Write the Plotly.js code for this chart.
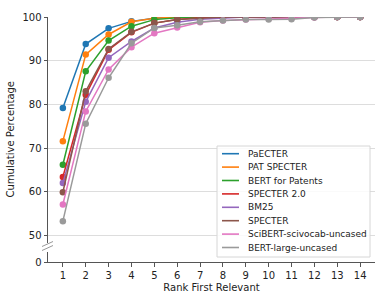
<!DOCTYPE html>
<html>
<head>
<meta charset="utf-8">
<script src="https://cdn.plot.ly/plotly-3.0.1.min.js"></script>
<style>html,body{margin:0;padding:0;background:#fff;}#chart{width:382px;height:300px;}</style>
</head>
<body>
<div id="chart"></div>
<script>
// ---- data ----
const ranks = [1,2,3,4,5,6,7,8,9,10,11,12,13,14];
const seriesNames = ["PaECTER","PAT SPECTER","BERT for Patents","SPECTER 2.0","BM25","SPECTER","SciBERT-scivocab-uncased","BERT-large-uncased"];
const paecter      = [79.2, 93.8, 97.4, 99.0, 99.7, 100, 100, 100, 100, 100, 100, 100, 100, 100];
const patSpecter   = [71.6, 91.4, 96.0, 98.9, 99.7, 100, 100, 100, 100, 100, 100, 100, 100, 100];
const bertPatents  = [66.2, 87.6, 94.6, 97.9, 99.4, 99.8, 100, 100, 100, 100, 100, 100, 100, 100];
const specter2     = [63.4, 82.2, 92.5, 96.5, 98.6, 99.4, 99.8, 100, 100, 100, 100, 100, 100, 100];
const bm25         = [62.0, 80.6, 90.7, 94.4, 97.5, 98.8, 99.5, 99.8, 100, 100, 100, 100, 100, 100];
const specter      = [59.9, 83.0, 92.7, 96.6, 98.6, 99.4, 99.7, 100, 100, 100, 100, 100, 100, 100];
const scibert      = [57.1, 78.4, 88.0, 93.1, 96.3, 97.6, 98.8, 99.2, 99.4, 99.6, 99.7, 99.9, 100, 100];
const bertLarge    = [53.3, 75.6, 86.1, 94.0, 97.5, 98.1, 98.9, 99.2, 99.4, 99.4, 99.5, 99.9, 100, 100];
const yTicks = [50, 60, 70, 80, 90, 100];
const yTicksLow = [0];

// ---- style ----
const colors = ["#1f77b4","#ff7f0e","#2ca02c","#d62728","#9467bd","#8c564b","#e377c2","#9a9a9a"];
const allSeries = [paecter, patSpecter, bertPatents, specter2, bm25, specter, scibert, bertLarge];
const FONT = "DejaVu Sans, sans-serif";

const traces = allSeries.map((vals, i) => ({
  x: ranks, y: vals, xaxis: "x", yaxis: "y2",
  type: "scatter", mode: "lines+markers", name: seriesNames[i],
  line: {color: colors[i], width: 1.5},
  marker: {color: colors[i], size: 6.5},
  showlegend: false, hoverinfo: "skip"
}));
// empty trace so the lower (broken) axis segment exists as a subplot
traces.unshift({x: [null], y: [null], xaxis: "x", yaxis: "y", type: "scatter", mode: "markers",
  showlegend: false, hoverinfo: "skip"});

// plot area geometry (px) for paper conversion
const L = 48, PW = 327, T = 17, PH = 245;
const px2x = p => (p - L) / PW;
const py2y = p => (T + PH - p) / PH;

const shapes = [];
const annotations = [];

// break marks
shapes.push({type:"line", xref:"paper", yref:"paper", x0:px2x(42), y0:py2y(246.5), x1:px2x(53), y1:py2y(241.5), line:{color:"#999", width:1}});
shapes.push({type:"line", xref:"paper", yref:"paper", x0:px2x(42), y0:py2y(250.5), x1:px2x(53), y1:py2y(245.5), line:{color:"#999", width:1}});

// legend box
shapes.push({type:"rect", xref:"paper", yref:"paper", x0:px2x(217), x1:px2x(370), y0:py2y(257), y1:py2y(146),
  line:{color:"#d6d6d6", width:1}, fillcolor:"rgba(255,255,255,0.85)", layer:"above"});
seriesNames.forEach((nm, i) => {
  const cy = 153.7 + i * 13.4;
  shapes.push({type:"line", xref:"paper", yref:"paper", x0:px2x(222), x1:px2x(239), y0:py2y(cy), y1:py2y(cy),
    line:{color:colors[i], width:1.6}, layer:"above"});
  annotations.push({xref:"paper", yref:"paper", x:px2x(246), y:py2y(cy), xanchor:"left", yanchor:"middle",
    text:nm, showarrow:false, font:{family:FONT, size:9, color:"#222"}});
});

// y axis title
annotations.push({xref:"paper", yref:"paper", x:0, xshift:-38, y:0.5, textangle:-90, xanchor:"center", yanchor:"middle",
  text:"Cumulative Percentage", showarrow:false, font:{family:FONT, size:10, color:"#222"}});

const layout = {
  width: 382, height: 300,
  margin: {l: L, r: 7, t: T, b: 38},
  paper_bgcolor: "#fff", plot_bgcolor: "#fff",
  font: {family: FONT, size: 10, color: "#222"},
  showlegend: false,
  xaxis: {
    anchor: "y", domain: [0, 1], range: [0.35, 14.65],
    tickvals: ranks, ticktext: ranks.map(String),
    showgrid: false, zeroline: false, showline: true, linecolor: "#555", linewidth: 1,
    ticks: "outside", ticklen: 3.5, tickcolor: "#555", tickwidth: 1,
    tickfont: {family: FONT, size: 10, color: "#222"},
    title: {text: "Rank First Relevant", font: {family: FONT, size: 10, color: "#222"}, standoff: 4}
  },
  yaxis: {
    anchor: "x",
    domain: [0, (T + PH - 252) / PH], range: [0, 1],
    tickvals: yTicksLow, ticktext: yTicksLow.map(String),
    showgrid: false, zeroline: false, showline: true, linecolor: "#555", linewidth: 1,
    ticks: "outside", ticklen: 3.5, tickcolor: "#555", tickwidth: 1,
    tickfont: {family: FONT, size: 10, color: "#222"}
  },
  yaxis2: {
    domain: [(T + PH - 243) / PH, 1], range: [48.3, 100], anchor: "x",
    tickvals: yTicks, ticktext: yTicks.map(String),
    showgrid: true, gridcolor: "#dddddd", gridwidth: 1,
    zeroline: false, showline: true, linecolor: "#555", linewidth: 1,
    ticks: "outside", ticklen: 3.5, tickcolor: "#555", tickwidth: 1,
    tickfont: {family: FONT, size: 10, color: "#222"}
  },
  shapes: shapes,
  annotations: annotations
};

Plotly.newPlot("chart", traces, layout, {staticPlot: true, displayModeBar: false});
</script>
</body>
</html>
